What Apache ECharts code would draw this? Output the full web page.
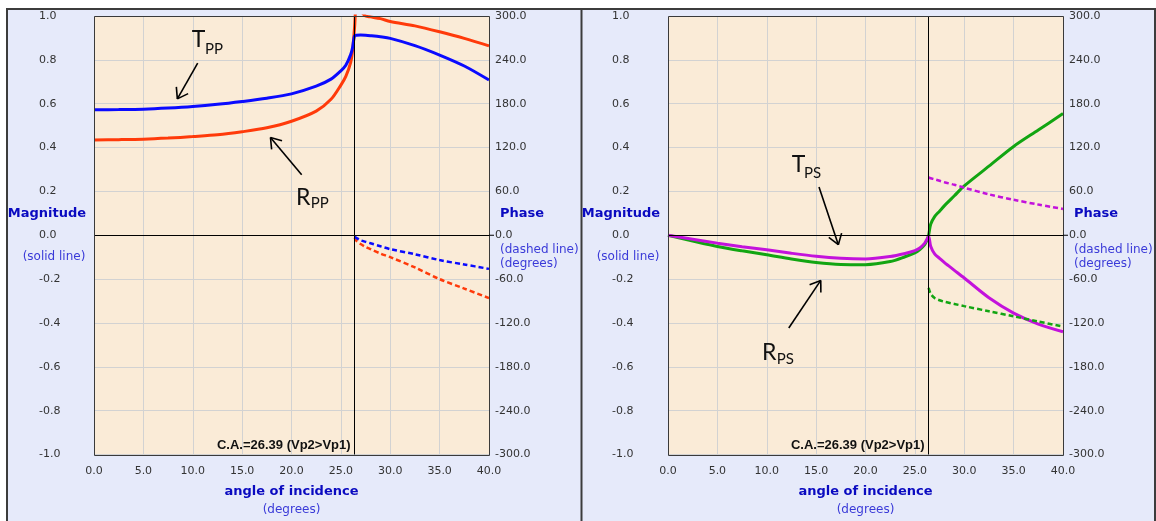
<!DOCTYPE html>
<html>
<head>
<meta charset="utf-8">
<script src="https://cdn.jsdelivr.net/npm/echarts@6/dist/echarts.min.js"></script>
<style>
html,body{margin:0;padding:0;background:#fff;}
#chart{width:1156px;height:521px;}
</style>
</head>
<body>
<div id="chart"></div>
<script>
// ---- data ----
const critAngle = 26.39;
const angleRange = [0, 40], angleStep = 5;
const magRange = [-1, 1], magStep = 0.2;
const phaseRange = [-300, 300], phaseStep = 60;

const angles = [0, 2.5, 5, 7.5, 10, 12.5, 15, 17.5, 20, 22.5, 24, 25, 25.5, 26, 26.2, 26.39, 26.6, 27, 27.5, 28, 29, 30, 32.5, 35, 37.5, 40];
const tppMag = [0.572, 0.573, 0.575, 0.58, 0.587, 0.597, 0.61, 0.625, 0.645, 0.68, 0.712, 0.75, 0.775, 0.825, 0.86, 0.91, 0.912, 0.913, 0.912, 0.91, 0.905, 0.898, 0.865, 0.822, 0.772, 0.708];
const rppMag = [0.435, 0.436, 0.438, 0.443, 0.45, 0.458, 0.472, 0.49, 0.52, 0.566, 0.62, 0.685, 0.725, 0.79, 0.85, 0.95, 1.06, 1.025, 1.0, 0.996, 0.988, 0.975, 0.955, 0.928, 0.898, 0.864];
const rpsMag = [0, -0.026, -0.051, -0.071, -0.089, -0.108, -0.124, -0.133, -0.134, -0.12, -0.098, -0.08, -0.065, -0.042, -0.025, 0, 0.05, 0.085, 0.11, 0.135, 0.18, 0.225, 0.315, 0.405, 0.48, 0.555];
const tpsMag = [0, -0.018, -0.036, -0.052, -0.066, -0.082, -0.096, -0.105, -0.108, -0.097, -0.083, -0.07, -0.058, -0.036, -0.02, -0.005, -0.05, -0.085, -0.105, -0.125, -0.16, -0.195, -0.285, -0.355, -0.405, -0.44];

const anglesPost = [26.39, 26.6, 27, 27.5, 28, 29, 30, 32.5, 35, 37.5, 40];
const tppPhase = [-2, -4, -7, -9, -11, -15, -19, -26, -34, -40, -46];
const rppPhase = [-3, -8, -12, -16, -19, -25, -30, -44, -60, -73, -86];
const rpsPhase = [-72, -80, -86, -89, -91, -94, -97, -104, -111, -118, -125];
const tpsPhase = [79, 78, 76.5, 74.5, 72.5, 69, 65, 56, 48.5, 42, 36];

// annotation anchors in data units
const annotations = [
  {grid: 0, main: 'T', sub: 'PP', text: [9.89, 0.891], subText: [11.24, 0.85], from: [10.5, 0.785], to: [8.44, 0.622]},
  {grid: 0, main: 'R', sub: 'PP', text: [20.46, 0.173], subText: [21.94, 0.146], from: [21.03, 0.276], to: [17.87, 0.446]},
  {grid: 1, main: 'T', sub: 'PS', text: [12.53, 0.321], subText: [13.77, 0.282], from: [15.29, 0.22], to: [17.25, -0.043]},
  {grid: 1, main: 'R', sub: 'PS', text: [9.52, -0.533], subText: [11.01, -0.565], from: [12.23, -0.423], to: [15.47, -0.206]}
];

// ---- styling ----
const C_BLUE = '#0a0aff', C_RED = '#ff3a0a', C_GREEN = '#12a512', C_MAG = '#c312dc';
const tickFont = {fontFamily: 'DejaVu Sans', fontSize: 11, color: '#333'};
const zip = (xs, ys) => xs.map((x, i) => [x, ys[i]]);
const fmt = v => (Math.abs(v) < 1e-9 ? 0 : v).toFixed(1);

const grids = [
  {left: 94, top: 16, width: 395, height: 439},
  {left: 668, top: 16, width: 395, height: 439}
];

function xAxisFor(i) {
  return {
    type: 'value', gridIndex: i, min: angleRange[0], max: angleRange[1], interval: angleStep,
    axisLine: {show: false}, axisTick: {show: false},
    axisLabel: Object.assign({formatter: fmt, margin: 11}, tickFont),
    splitLine: {show: true, lineStyle: {color: '#d2d2d2', width: 1}},
    name: '{t|angle of incidence}\n{s|(degrees)}', nameLocation: 'middle', nameGap: 29,
    nameTextStyle: {
      rich: {
        t: {fontFamily: 'DejaVu Sans', fontWeight: 'bold', fontSize: 13, color: '#0a0ac0', lineHeight: 17},
        s: {fontFamily: 'DejaVu Sans', fontSize: 12, color: '#3a3ad8', lineHeight: 19}
      }
    }
  };
}
function magAxisFor(i) {
  return {
    type: 'value', gridIndex: i, position: 'left', min: magRange[0], max: magRange[1], interval: magStep,
    axisLine: {show: false}, axisTick: {show: false},
    axisLabel: Object.assign({formatter: fmt, align: 'left', margin: i === 0 ? 55 : 56}, tickFont),
    splitLine: {show: true, lineStyle: {color: '#d2d2d2', width: 1}}
  };
}
function phaseAxisFor(i) {
  return {
    type: 'value', gridIndex: i, position: 'right', min: phaseRange[0], max: phaseRange[1], interval: phaseStep,
    axisLine: {show: false}, axisTick: {show: false},
    axisLabel: Object.assign({formatter: fmt, align: 'left', margin: 6}, tickFont),
    splitLine: {show: false}
  };
}

function solid(name, xi, yi, data, color, extra) {
  return Object.assign({
    name, type: 'line', xAxisIndex: xi, yAxisIndex: yi, data, showSymbol: false, symbol: 'none',
    smooth: 0.3, lineStyle: {color, width: 3}, itemStyle: {color}, z: 3, animation: false
  }, extra || {});
}
function dashed(name, xi, yi, data, color) {
  return {
    name, type: 'line', xAxisIndex: xi, yAxisIndex: yi, data, showSymbol: false, symbol: 'none',
    smooth: 0.3, lineStyle: {color, width: 2.5, type: [5, 3]}, itemStyle: {color}, z: 3, animation: false
  };
}
const refLines = {
  silent: true, symbol: 'none', animation: false,
  label: {show: false},
  lineStyle: {color: '#000', width: 1, type: 'solid'},
  data: [{yAxis: 0}, {xAxis: critAngle}]
};

const chart = echarts.init(document.getElementById('chart'), null, {renderer: 'canvas'});
chart.setOption({
  backgroundColor: '#e6eafa',
  animation: false,
  grid: grids.map(g => Object.assign({show: true, backgroundColor: '#faebd7', borderColor: 'transparent', borderWidth: 0}, g)),
  xAxis: [xAxisFor(0), xAxisFor(1)],
  yAxis: [magAxisFor(0), phaseAxisFor(0), magAxisFor(1), phaseAxisFor(1)],
  series: [
    solid('R_PP', 0, 0, zip(angles, rppMag), C_RED, {markLine: refLines}),
    solid('T_PP', 0, 0, zip(angles, tppMag), C_BLUE),
    dashed('R_PP phase', 0, 1, zip(anglesPost, rppPhase), C_RED),
    dashed('T_PP phase', 0, 1, zip(anglesPost, tppPhase), C_BLUE),
    solid('R_PS', 1, 2, zip(angles, rpsMag), C_GREEN, {markLine: refLines}),
    solid('T_PS', 1, 2, zip(angles, tpsMag), C_MAG),
    dashed('R_PS phase', 1, 3, zip(anglesPost, rpsPhase), C_GREEN),
    dashed('T_PS phase', 1, 3, zip(anglesPost, tpsPhase), C_MAG)
  ]
});

// ---- decorations (panels, side labels, annotations) ----
const g = [];
const border = '#3c3c3c';
g.push({type: 'rect', shape: {x: 0, y: 0, width: 1156, height: 8.5}, style: {fill: '#fff'}, silent: true, z: 50});
g.push({type: 'rect', shape: {x: 0, y: 0, width: 6, height: 521}, style: {fill: '#fff'}, silent: true, z: 50});
[[7, 9, 7, 521], [6, 9, 1156, 9], [581.5, 9, 581.5, 521], [1155, 9, 1155, 521]].forEach(l => {
  g.push({type: 'line', shape: {x1: l[0], y1: l[1], x2: l[2], y2: l[3]}, style: {stroke: border, lineWidth: 2}, silent: true, z: 51});
});

grids.forEach((gr, i) => {
  const right = gr.left + gr.width;
  g.push({type: 'rect', shape: {x: gr.left + 0.5, y: gr.top + 0.5, width: gr.width, height: gr.height}, style: {fill: 'none', stroke: '#3a3a3a', lineWidth: 1}, silent: true, z: 40});
  const zeroY = chart.convertToPixel({gridIndex: i}, [0, 0])[1];
  const magCx = i === 0 ? 47 : 621;
  g.push({type: 'text', x: magCx, y: zeroY - 22, style: {text: 'Magnitude', fontFamily: 'DejaVu Sans', fontWeight: 'bold', fontSize: 13, fill: '#0a0ac0', align: 'center', verticalAlign: 'middle'}, z: 60});
  g.push({type: 'text', x: magCx + 7, y: zeroY + 22, style: {text: '(solid line)', fontFamily: 'DejaVu Sans', fontSize: 12, fill: '#3a3ad8', align: 'center', verticalAlign: 'middle'}, z: 60});
  g.push({type: 'text', x: right + 11, y: zeroY - 22, style: {text: 'Phase', fontFamily: 'DejaVu Sans', fontWeight: 'bold', fontSize: 13, fill: '#0a0ac0', align: 'left', verticalAlign: 'middle'}, z: 60});
  g.push({type: 'text', x: right + 11, y: zeroY + 15, style: {text: '(dashed line)', fontFamily: 'DejaVu Sans', fontSize: 12, fill: '#3a3ad8', align: 'left', verticalAlign: 'middle'}, z: 60});
  g.push({type: 'text', x: right + 11, y: zeroY + 29, style: {text: '(degrees)', fontFamily: 'DejaVu Sans', fontSize: 12, fill: '#3a3ad8', align: 'left', verticalAlign: 'middle'}, z: 60});
  g.push({type: 'line', shape: {x1: right, y1: zeroY, x2: right + 5, y2: zeroY}, style: {stroke: '#000', lineWidth: 1}, silent: true, z: 60});
  const ca = chart.convertToPixel({gridIndex: i}, [critAngle, magRange[0]]);
  g.push({type: 'text', x: ca[0] - 4, y: ca[1] - 9, style: {text: 'C.A.=' + critAngle.toFixed(2) + ' (Vp2>Vp1)', fontFamily: 'Liberation Sans', fontWeight: 'bold', fontSize: 13, fill: '#111', align: 'right', verticalAlign: 'middle'}, z: 60});
});

annotations.forEach(a => {
  const P = p => chart.convertToPixel({gridIndex: a.grid}, p);
  const t = P(a.text), s = P(a.subText), f = P(a.from), to = P(a.to);
  g.push({type: 'text', x: t[0], y: t[1], style: {text: a.main, fontFamily: 'Lato', fontSize: 23, fill: '#111', align: 'left', verticalAlign: 'middle'}, z: 60});
  g.push({type: 'text', x: s[0], y: s[1], style: {text: a.sub, fontFamily: 'Lato', fontSize: 15, fill: '#111', align: 'left', verticalAlign: 'middle'}, z: 60});
  g.push({type: 'line', shape: {x1: f[0], y1: f[1], x2: to[0], y2: to[1]}, style: {stroke: '#000', lineWidth: 1.6}, silent: true, z: 60});
  const ang = Math.atan2(f[1] - to[1], f[0] - to[0]);
  const L = 12, spread = 0.6;
  [ang + spread, ang - spread].forEach(b => {
    g.push({type: 'line', shape: {x1: to[0], y1: to[1], x2: to[0] + L * Math.cos(b), y2: to[1] + L * Math.sin(b)}, style: {stroke: '#000', lineWidth: 1.6}, silent: true, z: 60});
  });
});

chart.setOption({graphic: {elements: g}});
</script>
</body>
</html>
